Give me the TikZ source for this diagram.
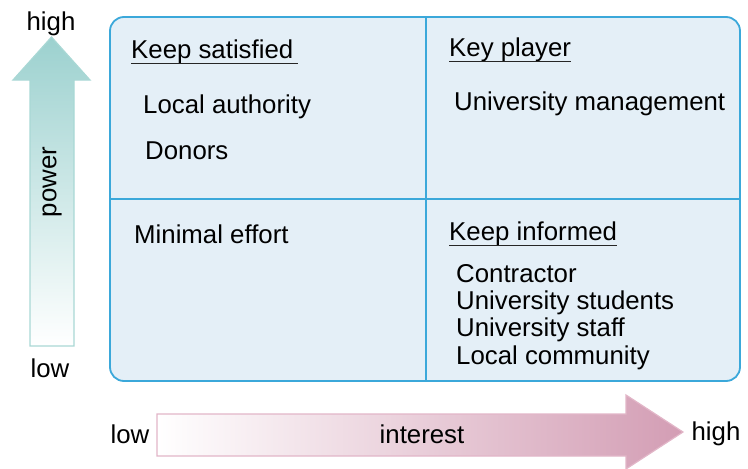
\documentclass[tikz,border=0pt]{standalone}
\usepackage{fontspec}
\setmainfont{Liberation Sans}
\usetikzlibrary{positioning}

\definecolor{gridline}{HTML}{3BA8DA}
\definecolor{cellfill}{HTML}{E4EFF7}
\definecolor{powertop}{HTML}{9CD1CF}
\definecolor{powerline}{HTML}{A9D8D5}
\definecolor{intright}{HTML}{D39DB4}
\definecolor{intline}{HTML}{E2B6C8}

\begin{document}
\begin{tikzpicture}[x=1pt, y=-1pt,
		txt/.style={font=\fontsize{25.8}{27.3}\selectfont, inner sep=0pt, anchor=west},
		heading/.style={txt},
		uline/.style={line width=1.6pt, black!85},
		axislbl/.style={font=\fontsize{25.8}{27.3}\selectfont, inner sep=0pt}
	]
	\useasboundingbox (0,0) rectangle (748,469);

	% power axis, shaded from teal at the top to white at the foot
	\shade[top color=powertop, bottom color=white, draw=powerline, line width=1.2pt]
		(30,346) -- (30,80) -- (13,80) -- (51.5,37) -- (90,80) -- (74,80) -- (74,346) -- cycle;
	\node[axislbl, rotate=90] (power) at (52,182) {power};
	\node[axislbl] (phigh) at (51,24) {high};
	\node[axislbl] (plow) at (50,368) {low};

	% interest axis, white on the left to pink at the head
	\shade[left color=white, right color=intright, draw=intline, line width=1.2pt]
		(157,414) -- (626,414) -- (626,395) -- (683,432) -- (626,469) -- (626,456) -- (157,456) -- cycle;
	\node[axislbl] (interest) at (422,434) {interest};
	\node[axislbl] (ilow) at (130,434) {low};
	\node[axislbl] (ihigh) at (716,434) {high};

	% the 2x2 grid
	\draw[gridline, line width=1.8pt, fill=cellfill, rounded corners=14pt]
		(110,17) rectangle (740,381);
	\coordinate (gtop) at (426,17);
	\coordinate (gbot) at (426,381);
	\coordinate (gleft) at (110,199);
	\coordinate (gright) at (740,199);
	\draw[gridline, line width=1.8pt] (gtop) -- (gbot);
	\draw[gridline, line width=1.8pt] (gleft) -- (gright);

	% top left
	\node[heading] (ks) at (131,52) {Keep satisfied};
	\draw[uline] ([yshift=-5pt]ks.base west) -- ([yshift=-5pt,xshift=5pt]ks.base east);
	\node[txt] (auth) at (143,107) {Local authority};
	\node[txt] (donors) at (145,151) {Donors};

	% top right
	\node[heading] (kp) at (449,50) {Key player};
	\draw[uline] ([yshift=-5pt]kp.base west) -- ([yshift=-5pt]kp.base east);
	\node[txt] (mgmt) at (454,104) {University management};

	% bottom left
	\node[heading] (me) at (134,234) {Minimal effort};

	% bottom right
	\node[heading] (ki) at (449,234) {Keep informed};
	\draw[uline] ([yshift=-5pt]ki.base west) -- ([yshift=-5pt]ki.base east);
	\node[txt, anchor=north west, align=left] (others) at (456,264)
		{Contractor\\University students\\University staff\\Local community};
\end{tikzpicture}
\end{document}
